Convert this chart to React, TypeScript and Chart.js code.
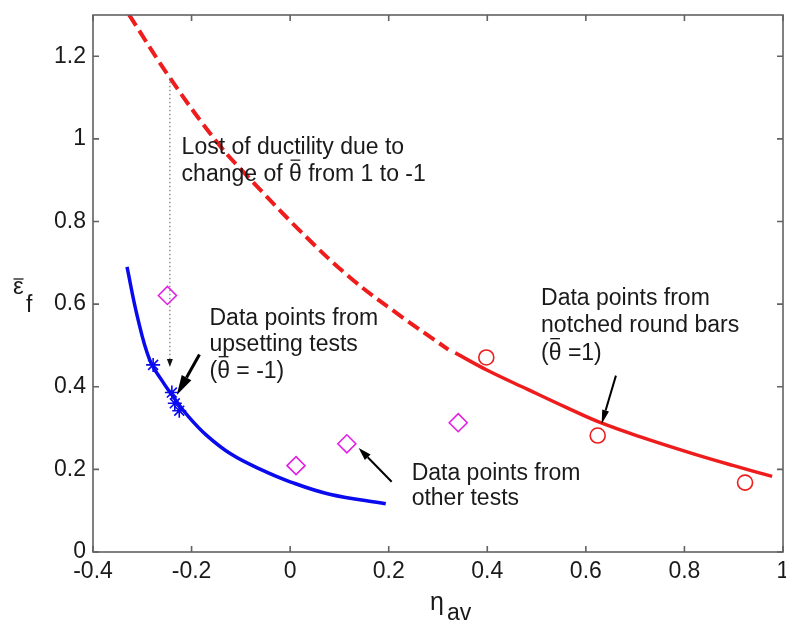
import React, { useEffect, useRef } from "react";
import { Chart, registerables } from "chart.js";

Chart.register(...registerables);

// ---- axis ticks ----
const xTicks = [-0.4, -0.2, 0, 0.2, 0.4, 0.6, 0.8, 1];
const yTicks = [0, 0.2, 0.4, 0.6, 0.8, 1, 1.2];

// ---- curves ----
const redDashedX = [-0.327, -0.244, -0.147, -0.086, 0.018, 0.119, 0.214, 0.321];
const redDashedY = [1.301, 1.148, 0.99, 0.909, 0.78, 0.667, 0.58, 0.49];
const redSolidX = [0.335, 0.4, 0.483, 0.56, 0.63, 0.72, 0.82, 0.9, 0.978];
const redSolidY = [0.482, 0.44, 0.393, 0.35, 0.313, 0.275, 0.237, 0.209, 0.183];
const blueX = [-0.331, -0.31, -0.285, -0.26, -0.235, -0.21, -0.17, -0.12, -0.06, 0, 0.08, 0.194];
const blueY = [0.69, 0.57, 0.465, 0.415, 0.372, 0.333, 0.283, 0.237, 0.2, 0.17, 0.14, 0.117];

// ---- data points ----
const upsetX = [-0.278, -0.24, -0.234, -0.225];
const upsetY = [0.453, 0.386, 0.36, 0.342];
const otherX = [-0.249, 0.012, 0.115, 0.341];
const otherY = [0.621, 0.209, 0.262, 0.313];
const notchedX = [0.398, 0.624, 0.923];
const notchedY = [0.471, 0.282, 0.168];

// ---- annotations (data coordinates) ----
type Seg = { t: string; bar?: boolean };
const textBlocks: { x: number; ys: number[]; lines: Seg[][] }[] = [
  {
    x: -0.2202,
    ys: [0.9643, 0.8978],
    lines: [
      [{ t: "Lost of ductility due to" }],
      [{ t: "change of " }, { t: "θ", bar: true }, { t: " from 1 to -1" }],
    ],
  },
  {
    x: -0.1636,
    ys: [0.5504, 0.4874, 0.422],
    lines: [
      [{ t: "Data points from" }],
      [{ t: "upsetting tests" }],
      [{ t: "(" }, { t: "θ", bar: true }, { t: " = -1)" }],
    ],
  },
  {
    x: 0.5091,
    ys: [0.5988, 0.5334, 0.4656],
    lines: [
      [{ t: "Data points from" }],
      [{ t: "notched round bars" }],
      [{ t: "(" }, { t: "θ", bar: true }, { t: " =1)" }],
    ],
  },
  {
    x: 0.2465,
    ys: [0.1751, 0.1145],
    lines: [[{ t: "Data points from" }], [{ t: "other tests" }]],
  },
];

const arrows = [
  { from: [-0.184, 0.478], to: [-0.23, 0.38], lw: 3, hl: 20, hw: 11 },
  { from: [0.206, 0.17], to: [0.139, 0.252], lw: 2, hl: 13, hw: 8 },
  { from: [0.661, 0.427], to: [0.632, 0.31], lw: 2, hl: 14, hw: 7 },
];
const dottedArrow = { from: [-0.244, 1.148], to: [-0.244, 0.448] };

const RED = "#ee1c1c";
const BLUE = "#0a0aee";
const MAGENTA = "#e51ee5";
const FONT = "'Liberation Sans', Arial, sans-serif";
const TEXT = "#1a1a1a";

const zip = (xs: number[], ys: number[]) => xs.map((x, i) => ({ x, y: ys[i] }));
const fmt = (v: number) => String(Math.round(v * 10) / 10);

function drawArrow(ctx: CanvasRenderingContext2D, x1: number, y1: number, x2: number, y2: number, lw: number, hl: number, hw: number, color: string, dashed = false, lineColor?: string) {
  const a = Math.atan2(y2 - y1, x2 - x1);
  const bx = x2 - hl * Math.cos(a);
  const by = y2 - hl * Math.sin(a);
  ctx.save();
  ctx.strokeStyle = lineColor || color;
  ctx.lineWidth = lw;
  if (dashed) ctx.setLineDash([1.5, 2.5]);
  ctx.beginPath();
  ctx.moveTo(x1, y1);
  ctx.lineTo(bx, by);
  ctx.stroke();
  ctx.setLineDash([]);
  ctx.fillStyle = color;
  ctx.beginPath();
  ctx.moveTo(x2, y2);
  ctx.lineTo(bx + (hw / 2) * Math.sin(a), by - (hw / 2) * Math.cos(a));
  ctx.lineTo(bx - (hw / 2) * Math.sin(a), by + (hw / 2) * Math.cos(a));
  ctx.closePath();
  ctx.fill();
  ctx.restore();
}

function drawRich(ctx: CanvasRenderingContext2D, x: number, y: number, segs: Seg[]) {
  let cx = x;
  for (const s of segs) {
    ctx.fillText(s.t, cx, y);
    const w = ctx.measureText(s.t).width;
    if (s.bar) {
      ctx.beginPath();
      ctx.moveTo(cx + 1.5, y - 21);
      ctx.lineTo(cx + w - 1.5, y - 21);
      ctx.stroke();
    }
    cx += w;
  }
}

const annoPlugin = {
  id: "anno",
  afterDraw(chart: any) {
    const { ctx, chartArea: ca, scales } = chart;
    const px = (v: number) => scales.x.getPixelForValue(v);
    const py = (v: number) => scales.y.getPixelForValue(v);
    ctx.save();

    // dotted arrow
    drawArrow(ctx, px(dottedArrow.from[0]), py(dottedArrow.from[1]), px(dottedArrow.to[0]), py(dottedArrow.to[1]), 1.2, 8, 6, "#111", true, "#777");

    // arrows
    for (const a of arrows) {
      drawArrow(ctx, px(a.from[0]), py(a.from[1]), px(a.to[0]), py(a.to[1]), a.lw, a.hl, a.hw, "#000");
    }

    // texts
    ctx.font = `23px ${FONT}`;
    ctx.fillStyle = TEXT;
    ctx.strokeStyle = TEXT;
    ctx.lineWidth = 1.3;
    ctx.textBaseline = "alphabetic";
    ctx.textAlign = "left";
    for (const b of textBlocks) {
      b.lines.forEach((line, i) => drawRich(ctx, px(b.x), py(b.ys[i]), line));
    }

    // box
    ctx.strokeStyle = "#626262";
    ctx.lineWidth = 1.6;
    ctx.strokeRect(ca.left, ca.top, ca.right - ca.left, ca.bottom - ca.top);
    ctx.beginPath();
    for (const t of xTicks) {
      const x = px(t);
      ctx.moveTo(x, ca.bottom);
      ctx.lineTo(x, ca.bottom - 6);
      ctx.moveTo(x, ca.top);
      ctx.lineTo(x, ca.top + 6);
    }
    for (const t of yTicks) {
      const y = py(t);
      ctx.moveTo(ca.left, y);
      ctx.lineTo(ca.left + 6, y);
      ctx.moveTo(ca.right, y);
      ctx.lineTo(ca.right - 6, y);
    }
    ctx.stroke();

    // tick labels
    ctx.fillStyle = TEXT;
    ctx.font = `23px ${FONT}`;
    ctx.textBaseline = "middle";
    ctx.textAlign = "center";
    for (const t of xTicks) ctx.fillText(fmt(t), px(t), ca.bottom + 20);
    ctx.textAlign = "right";
    for (const t of yTicks) ctx.fillText(fmt(t), ca.left - 7, py(t));

    // axis titles
    ctx.textAlign = "left";
    ctx.textBaseline = "alphabetic";
    ctx.strokeStyle = TEXT;
    ctx.font = `24px ${FONT}`;
    const yMid = (ca.top + ca.bottom) / 2;
    ctx.fillText("ε", 13, yMid + 10);
    ctx.lineWidth = 1.3;
    ctx.beginPath();
    ctx.moveTo(13.5, yMid - 4.5);
    ctx.lineTo(23.5, yMid - 4.5);
    ctx.stroke();
    ctx.font = `23px ${FONT}`;
    ctx.fillText("f", 26, yMid + 28);

    const xMid = (ca.left + ca.right) / 2;
    ctx.font = `25px ${FONT}`;
    ctx.fillText("η", xMid - 8, ca.bottom + 58);
    ctx.font = `23px ${FONT}`;
    ctx.fillText("av", xMid + 9, ca.bottom + 68);

    ctx.restore();
  },
};

export default function App() {
  const ref = useRef<HTMLCanvasElement>(null);
  useEffect(() => {
    const chart = new Chart(ref.current as HTMLCanvasElement, {
      type: "scatter",
      data: {
        datasets: [
          {
            data: zip(redDashedX, redDashedY),
            showLine: true,
            borderColor: RED,
            borderWidth: 4,
            borderDash: [13, 6],
            borderCapStyle: "butt",
            pointRadius: 0,
            tension: 0.4,
          },
          {
            data: zip(redSolidX, redSolidY),
            showLine: true,
            borderColor: RED,
            borderWidth: 3.5,
            pointRadius: 0,
            tension: 0.4,
          },
          {
            data: zip(blueX, blueY),
            showLine: true,
            borderColor: BLUE,
            borderWidth: 3.5,
            pointRadius: 0,
            tension: 0.4,
          },
          {
            data: zip(upsetX, upsetY),
            showLine: false,
            pointStyle: "star",
            pointRadius: 7,
            pointBorderColor: BLUE,
            pointBorderWidth: 1.6,
            pointBackgroundColor: "rgba(0,0,0,0)",
          },
          {
            data: zip(otherX, otherY),
            showLine: false,
            pointStyle: "rectRot",
            pointRadius: 9,
            pointBorderColor: MAGENTA,
            pointBorderWidth: 1.6,
            pointBackgroundColor: "rgba(0,0,0,0)",
          },
          {
            data: zip(notchedX, notchedY),
            showLine: false,
            pointStyle: "circle",
            pointRadius: 7.5,
            pointBorderColor: RED,
            pointBorderWidth: 1.6,
            pointBackgroundColor: "rgba(0,0,0,0)",
          },
        ],
      },
      options: {
        responsive: false,
        animation: false,
        layout: { autoPadding: false, padding: { left: 0, right: 3, top: 15, bottom: 0 } },
        plugins: { legend: { display: false }, tooltip: { enabled: false } },
        scales: {
          x: {
            type: "linear",
            min: -0.4,
            max: 1,
            grid: { display: false, drawTicks: false },
            border: { display: false },
            ticks: { display: false },
            afterBuildTicks: (s: any) => {
              s.ticks = xTicks.map((v) => ({ value: v }));
            },
            afterFit: (s: any) => {
              s.height = 71;
            },
          },
          y: {
            type: "linear",
            min: 0,
            max: 1.3,
            grid: { display: false, drawTicks: false },
            border: { display: false },
            ticks: { display: false },
            afterBuildTicks: (s: any) => {
              s.ticks = yTicks.map((v) => ({ value: v }));
            },
            afterFit: (s: any) => {
              s.width = 93;
            },
          },
        },
      },
      plugins: [annoPlugin],
    } as any);
    return () => chart.destroy();
  }, []);
  return (
    <div style={{ position: "absolute", left: 0, top: 0, width: 786, height: 623, background: "#fff" }}>
      <canvas ref={ref} width={786} height={623} style={{ display: "block", width: 786, height: 623 }} />
    </div>
  );
}
